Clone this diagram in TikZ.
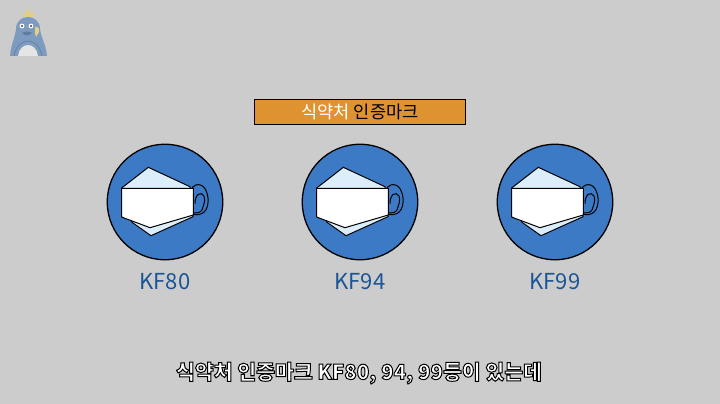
\documentclass[tikz,border=0pt]{standalone}
\usepackage{fontspec}
\setmainfont{Noto Sans CJK KR}
\newfontfamily\heavykr{Noto Sans CJK KR Black}
\definecolor{bgc}{HTML}{CCCCCC}
\definecolor{discblue}{HTML}{3C7AC6}
\definecolor{labelblue}{HTML}{1B5596}
\definecolor{boxorange}{HTML}{DF9330}
\definecolor{paleblue}{HTML}{DCEEFA}
\definecolor{penguin}{HTML}{7C9BBE}
\definecolor{penguindark}{HTML}{5F7C9E}
\definecolor{crown}{HTML}{E3CF85}
\tikzset{
  x=1pt,y=-1pt,
  maskline/.style={draw=black,line width=1pt,line join=miter},
  disc/.style={circle,draw=black,line width=1.3pt,fill=discblue,minimum size=115.5pt,inner sep=0pt},
  kflabel/.style={text=labelblue,font=\fontsize{22pt}{24pt}\selectfont,inner sep=0pt},
  titlebox/.style={draw=black,line width=1pt,fill=boxorange,minimum width=211pt,minimum height=25pt,inner sep=0pt,font=\fontsize{17.6pt}{19pt}\selectfont},
  subtitle/.style={text=white,inner sep=0pt,font=\heavykr\fontsize{20.5pt}{22pt}\selectfont},
  pics/maskicon/.style={code={
    \draw[black,line width=1pt] (27,-14.5) .. controls (31,-19) and (41,-20) .. (43,-4)
       .. controls (44,8) and (38,15) .. (27,12);
    \draw[black,line width=1pt] (30,1.5) .. controls (30,-8) and (36,-11) .. (39,-6)
       .. controls (41,-1) and (38,4) .. (37,8) .. controls (35,11) and (32,11) .. (29,11);
    \fill[paleblue,maskline] (-43.3,-14) -- (-16.7,-34.7) -- (25,-15.3) -- (28,14.7) -- (-14,33.7) -- (-33,20.3) -- cycle;
    \fill[white,maskline] (-43.3,-13.7) -- (-43.3,15) -- (-41.7,15.7) -- (-15,25.7) -- (28.3,13) -- (28.3,-13.7) -- cycle;
  }}
}
\begin{document}
\begin{tikzpicture}
\path[use as bounding box,fill=bgc] (0,0) rectangle (720,404);
% penguin
\fill[crown] (24,17) -- (22,13) -- (25.5,14) -- (28,8) -- (31,14) -- (36,13) -- (33,17) -- cycle;
\fill[penguin] (10,56) .. controls (11,44) and (15,38) .. (16,29)
  .. controls (16,21) and (22,17) .. (28,17) .. controls (34,17) and (40,21) .. (40,29)
  .. controls (41,38) and (46,44) .. (47,56) -- cycle;
\draw[penguindark,line width=.6pt] (14,56) .. controls (16,46) and (22,41) .. (28,41) .. controls (34,41) and (40,46) .. (42,56);
\fill[white!90!black] (18,56) .. controls (19,49) and (23,45) .. (28,45) .. controls (33,45) and (37,49) .. (38,56) -- cycle;
\fill[crown] (35,27) .. controls (38,26) and (40,29) .. (39,32) -- (36,37) -- (35,33) -- cycle;
\fill[white] (22,26) circle (2.4) (31,26) circle (2.4);
\fill[black!75] (22,26) circle (1.1) (31,26) circle (1.1);
\fill[penguindark] (22,33) .. controls (25,31) and (28,31) .. (32,33) .. controls (28,36) and (25,36) .. (22,33) -- cycle;
% title
\node[titlebox] (title) at (360,111.5) {\textcolor{white}{식약처} \textcolor{black}{인증마크}};
% discs
\node[disc] (d1) at (165,202) {};
\node[disc] (d2) at (360,202) {};
\node[disc] (d3) at (555,202) {};
\pic at (165,202) {maskicon};
\pic at (360,202) {maskicon};
\pic at (555,202) {maskicon};
\node[kflabel] (k1) at (165,282) {KF80};
\node[kflabel] (k2) at (360,282) {KF94};
\node[kflabel] (k3) at (555,282) {KF99};
% subtitle
\node[subtitle] (sub) at (359,373) {\special{pdf:code 2 Tr 1 w 0 0 0 RG}식약처 인증마크 KF80, 94, 99등이 있는데\special{pdf:code 0 Tr}};
\end{tikzpicture}
\end{document}
